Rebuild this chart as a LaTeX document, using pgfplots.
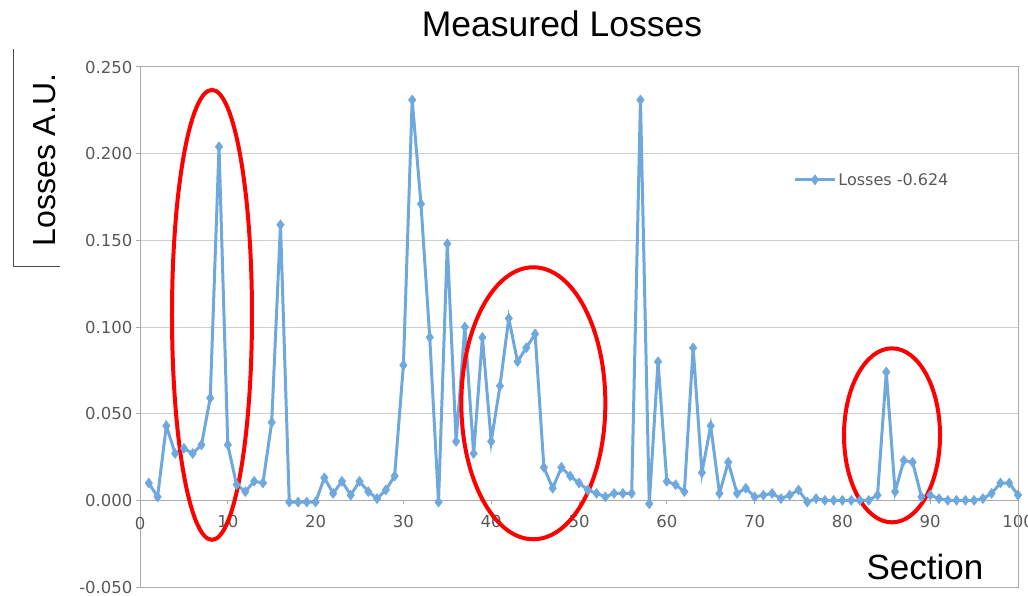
\documentclass[border=0pt]{standalone}
\usepackage{pgfplots}
\pgfplotsset{compat=1.18}
\usepackage{fontspec}
\setmainfont{Liberation Sans}
\newfontfamily\dejavu{DejaVu Sans}
\definecolor{losses}{RGB}{111,168,220}
\definecolor{gridgray}{RGB}{205,205,205}
\definecolor{axisgray}{RGB}{170,170,170}
\definecolor{ticktext}{RGB}{89,89,89}
\begin{document}
\begin{tikzpicture}
\begin{axis}[
    at={(140pt,8pt)}, anchor=south west,
    scale only axis, width=878pt, height=520pt,
    xmin=0, xmax=100, ymin=-0.05, ymax=0.25,
    axis x line*=middle, axis y line*=left,
    axis line style={axisgray, line width=1pt},
    xtick={0,10,...,100},
    ytick={-0.05,0,0.05,0.1,0.15,0.2,0.25},
    ymajorgrids,
    grid style={gridgray, line width=1pt},
    tick align=outside,
    major tick length=4pt,
    tick style={axisgray, line width=1pt},
    /pgf/number format/assume math mode=true,
    ticklabel style={font=\dejavu\fontsize{16.5}{16.5}\selectfont, text=ticktext},
    yticklabel style={/pgf/number format/.cd, fixed, fixed zerofill, precision=3},
    xticklabel style={yshift=-7pt},
    clip=false,
    legend style={draw=none, fill=none, at={(0.744,0.783)}, anchor=west,
        font=\dejavu\fontsize{16}{16}\selectfont, text=ticktext,
        inner sep=0pt, legend cell align=left},
    legend image code/.code={
        \draw[mark repeat=2, mark phase=2, #1] plot coordinates {(0pt,0pt) (20pt,0pt) (40pt,0pt)};
    },
]
\addplot[losses, line width=3pt, mark=diamond*, mark size=5pt,
    mark options={fill=losses, draw=losses, line width=0.5pt}] coordinates {
(1,0.010) (2,0.002) (3,0.043) (4,0.027) (5,0.030) (6,0.027) (7,0.032) (8,0.059) (9,0.204) (10,0.032)
(11,0.009) (12,0.005) (13,0.011) (14,0.010) (15,0.045) (16,0.159) (17,-0.001) (18,-0.001) (19,-0.001) (20,-0.001)
(21,0.013) (22,0.004) (23,0.011) (24,0.003) (25,0.011) (26,0.005) (27,0.001) (28,0.006) (29,0.014) (30,0.078)
(31,0.231) (32,0.171) (33,0.094) (34,-0.001) (35,0.148) (36,0.034) (37,0.100) (38,0.027) (39,0.094) (40,0.034)
(41,0.066) (42,0.105) (43,0.080) (44,0.088) (45,0.096) (46,0.019) (47,0.007) (48,0.019) (49,0.014) (50,0.010)
(51,0.006) (52,0.004) (53,0.002) (54,0.004) (55,0.004) (56,0.004) (57,0.231) (58,-0.002) (59,0.080) (60,0.011)
(61,0.009) (62,0.005) (63,0.088) (64,0.016) (65,0.043) (66,0.004) (67,0.022) (68,0.004) (69,0.007) (70,0.002)
(71,0.003) (72,0.004) (73,0.001) (74,0.003) (75,0.006) (76,-0.001) (77,0.001) (78,0.000) (79,0.000) (80,0.000)
(81,0.000) (82,0.000) (83,0.000) (84,0.003) (85,0.074) (86,0.005) (87,0.023) (88,0.022) (89,0.002) (90,0.003)
(91,0.001) (92,0.000) (93,0.000) (94,0.000) (95,0.000) (96,0.001) (97,0.004) (98,0.010) (99,0.010) (100,0.003)
};
\addlegendentry{Losses -0.624}
% frame of the plot area
\draw[axisgray, line width=1pt] (rel axis cs:0,0) rectangle (rel axis cs:1,1);
% the origin label that the centred x axis leaves out
\node[font=\dejavu\fontsize{16.5}{16.5}\selectfont, text=ticktext] at (axis cs:0,-0.0135) {0};
% red annotation ellipses
\draw[red, line width=4pt] (axis cs:8.2,0.107) ellipse [x radius=40pt, y radius=225pt];
\draw[red, line width=4pt] (axis cs:44.8,0.056) ellipse [x radius=72pt, y radius=136pt];
\draw[red, line width=4pt] (axis cs:85.65,0.0375) ellipse [x radius=48pt, y radius=87pt];
\end{axis}
\node[font=\fontsize{35.5}{35.5}\selectfont] at (562pt,571pt) {Measured Losses};
\node[font=\fontsize{32}{32}\selectfont, rotate=90] at (45pt,435pt) {Losses A.U.};
\node[font=\fontsize{35}{35}\selectfont] at (925pt,28pt) {Section};
\draw[black!70, line width=1pt] (13pt,546pt) -- (13pt,328pt) -- (60pt,328pt);
\pgfresetboundingbox
\useasboundingbox (0,0) rectangle (1028pt,595pt);
\end{tikzpicture}
\end{document}
